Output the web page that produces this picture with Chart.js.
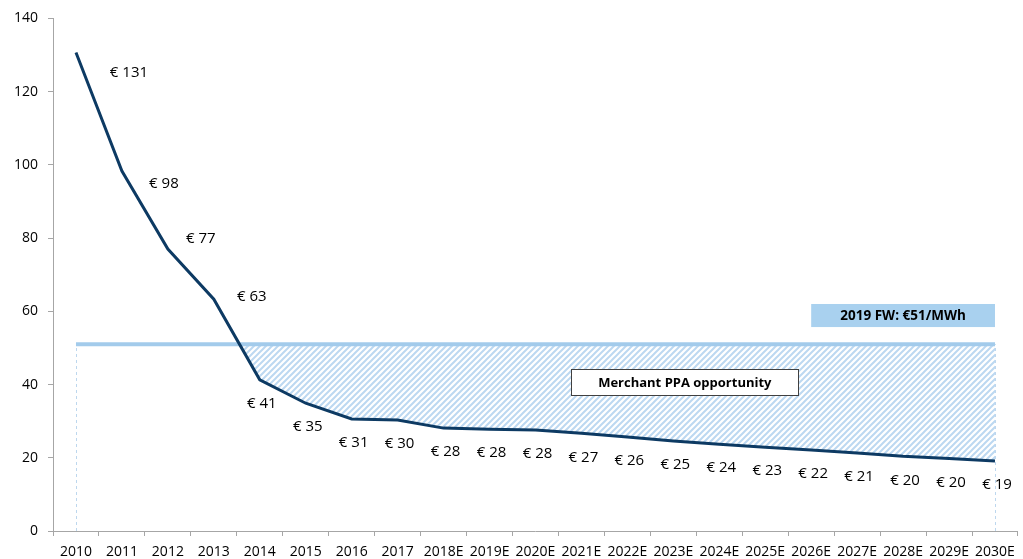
<!DOCTYPE html>
<html><head><meta charset="utf-8">
<script src="https://cdn.jsdelivr.net/npm/chart.js@4/dist/chart.umd.min.js"></script>
<style>html,body{margin:0;padding:0;background:#fff;} #wrap{width:1023px;height:559px;position:relative;}</style>
</head><body><div id="wrap"><canvas id="c"></canvas></div>
<script>
const categories = ['2010','2011','2012','2013','2014','2015','2016','2017','2018E','2019E','2020E','2021E','2022E','2023E','2024E','2025E','2026E','2027E','2028E','2029E','2030E'];
const prices = [130.7, 98.3, 77.0, 63.3, 41.3, 34.9, 30.6, 30.3, 28.1, 27.8, 27.6, 26.7, 25.7, 24.6, 23.7, 22.9, 22.1, 21.3, 20.4, 19.8, 19.1];
const forwardPrice = 51;
const forwardSeries = categories.map(() => forwardPrice);
const yTicks = [0, 20, 40, 60, 80, 100, 120, 140];
const forwardLabel = '2019 FW: €51/MWh';
const opportunityLabel = 'Merchant PPA opportunity';

const FONT = "'Open Sans', 'DejaVu Sans', sans-serif";

function makeHatch() {
  const s = 6;
  const c = document.createElement('canvas');
  c.width = s; c.height = s;
  const x = c.getContext('2d');
  x.strokeStyle = '#bcd8f1';
  x.lineWidth = 2;
  x.beginPath();
  x.moveTo(0, s); x.lineTo(s, 0);
  x.moveTo(-1, 1); x.lineTo(1, -1);
  x.moveTo(s - 1, s + 1); x.lineTo(s + 1, s - 1);
  x.stroke();
  return x.createPattern(c, 'repeat');
}

const labelOffsets = [[53, 20], [42, 13], [33, -10], [38, -2]];
const defaultOffset = [2, 24];

const overlayPlugin = {
  id: 'overlay',
  beforeDatasetsDraw(chart) {
    const {ctx, scales: {x, y}} = chart;
    ctx.save();
    ctx.strokeStyle = '#bdd7ee';
    ctx.lineWidth = 1;
    ctx.setLineDash([3, 3]);
    [0, categories.length - 1].forEach(i => {
      const px = Math.round(x.getPixelForValue(i)) + 0.5;
      ctx.beginPath();
      ctx.moveTo(px, y.getPixelForValue(0));
      ctx.lineTo(px, y.getPixelForValue(forwardPrice));
      ctx.stroke();
    });
    ctx.restore();
  },
  afterDatasetsDraw(chart) {
    const {ctx, scales: {x, y}} = chart;
    const meta = chart.getDatasetMeta(0);
    ctx.save();
    ctx.font = '15px ' + FONT;
    ctx.fillStyle = '#000';
    ctx.textAlign = 'center';
    ctx.textBaseline = 'middle';
    meta.data.forEach((pt, i) => {
      const off = labelOffsets[i] || defaultOffset;
      ctx.fillText('€ ' + Math.round(prices[i]), pt.x + off[0], pt.y + off[1]);
    });

    // forward price box
    const fx1 = x.getPixelForValue(16), fx2 = x.getPixelForValue(20);
    const fy1 = y.getPixelForValue(62), fy2 = y.getPixelForValue(55.7);
    ctx.fillStyle = '#a9d1ef';
    ctx.fillRect(fx1, fy1, fx2 - fx1, fy2 - fy1);
    ctx.fillStyle = '#000';
    ctx.font = 'bold 13.5px ' + FONT;
    ctx.fillText(forwardLabel, (fx1 + fx2) / 2, (fy1 + fy2) / 2 + 1);

    // opportunity box
    const mx1 = x.getPixelForValue(10.78), mx2 = x.getPixelForValue(15.72);
    const my1 = y.getPixelForValue(44.2), my2 = y.getPixelForValue(37.1);
    ctx.fillStyle = '#fff';
    ctx.fillRect(mx1, my1, mx2 - mx1, my2 - my1);
    ctx.strokeStyle = '#404040';
    ctx.lineWidth = 1;
    ctx.strokeRect(Math.round(mx1) + 0.5, Math.round(my1) + 0.5, Math.round(mx2 - mx1), Math.round(my2 - my1));
    ctx.fillStyle = '#000';
    ctx.font = 'bold 13px ' + FONT;
    ctx.fillText(opportunityLabel, (mx1 + mx2) / 2, (my1 + my2) / 2 + 1);
    ctx.restore();
  }
};

const chart = new Chart(document.getElementById('c'), {
  type: 'line',
  data: {
    labels: categories,
    datasets: [
      {
        label: 'Price',
        data: prices,
        borderColor: '#0d3a63',
        borderWidth: 3,
        pointRadius: 0,
        tension: 0,
        fill: false
      },
      {
        label: 'Forward',
        data: forwardSeries,
        borderColor: '#a3cbeb',
        borderWidth: 4,
        pointRadius: 0,
        fill: { target: 0, above: makeHatch(), below: 'rgba(0,0,0,0)' }
      }
    ]
  },
  options: {
    responsive: true,
    maintainAspectRatio: false,
    animation: false,
    layout: { padding: { top: 17, right: 5, left: 0, bottom: 0 } },
    plugins: { legend: { display: false }, tooltip: { enabled: false } },
    scales: {
      x: {
        offset: true,
        grid: { offset: true, drawOnChartArea: false, tickLength: 5, color: '#a6a6a6' },
        border: { color: '#a6a6a6' },
        ticks: { autoSkip: false, maxRotation: 0, color: '#000', padding: 8, font: { family: FONT, size: 14 } },
        afterFit(scale) { scale.height = 28; }
      },
      y: {
        min: 0, max: 140,
        afterBuildTicks(scale) { scale.ticks = yTicks.map(v => ({ value: v })); },
        grid: { drawOnChartArea: false, tickLength: 5, color: '#a6a6a6' },
        border: { color: '#a6a6a6' },
        ticks: { color: '#000', padding: 10, font: { family: FONT, size: 14 } },
        afterFit(scale) { scale.width = 53; }
      }
    }
  },
  plugins: [overlayPlugin]
});
</script>
</body></html>
